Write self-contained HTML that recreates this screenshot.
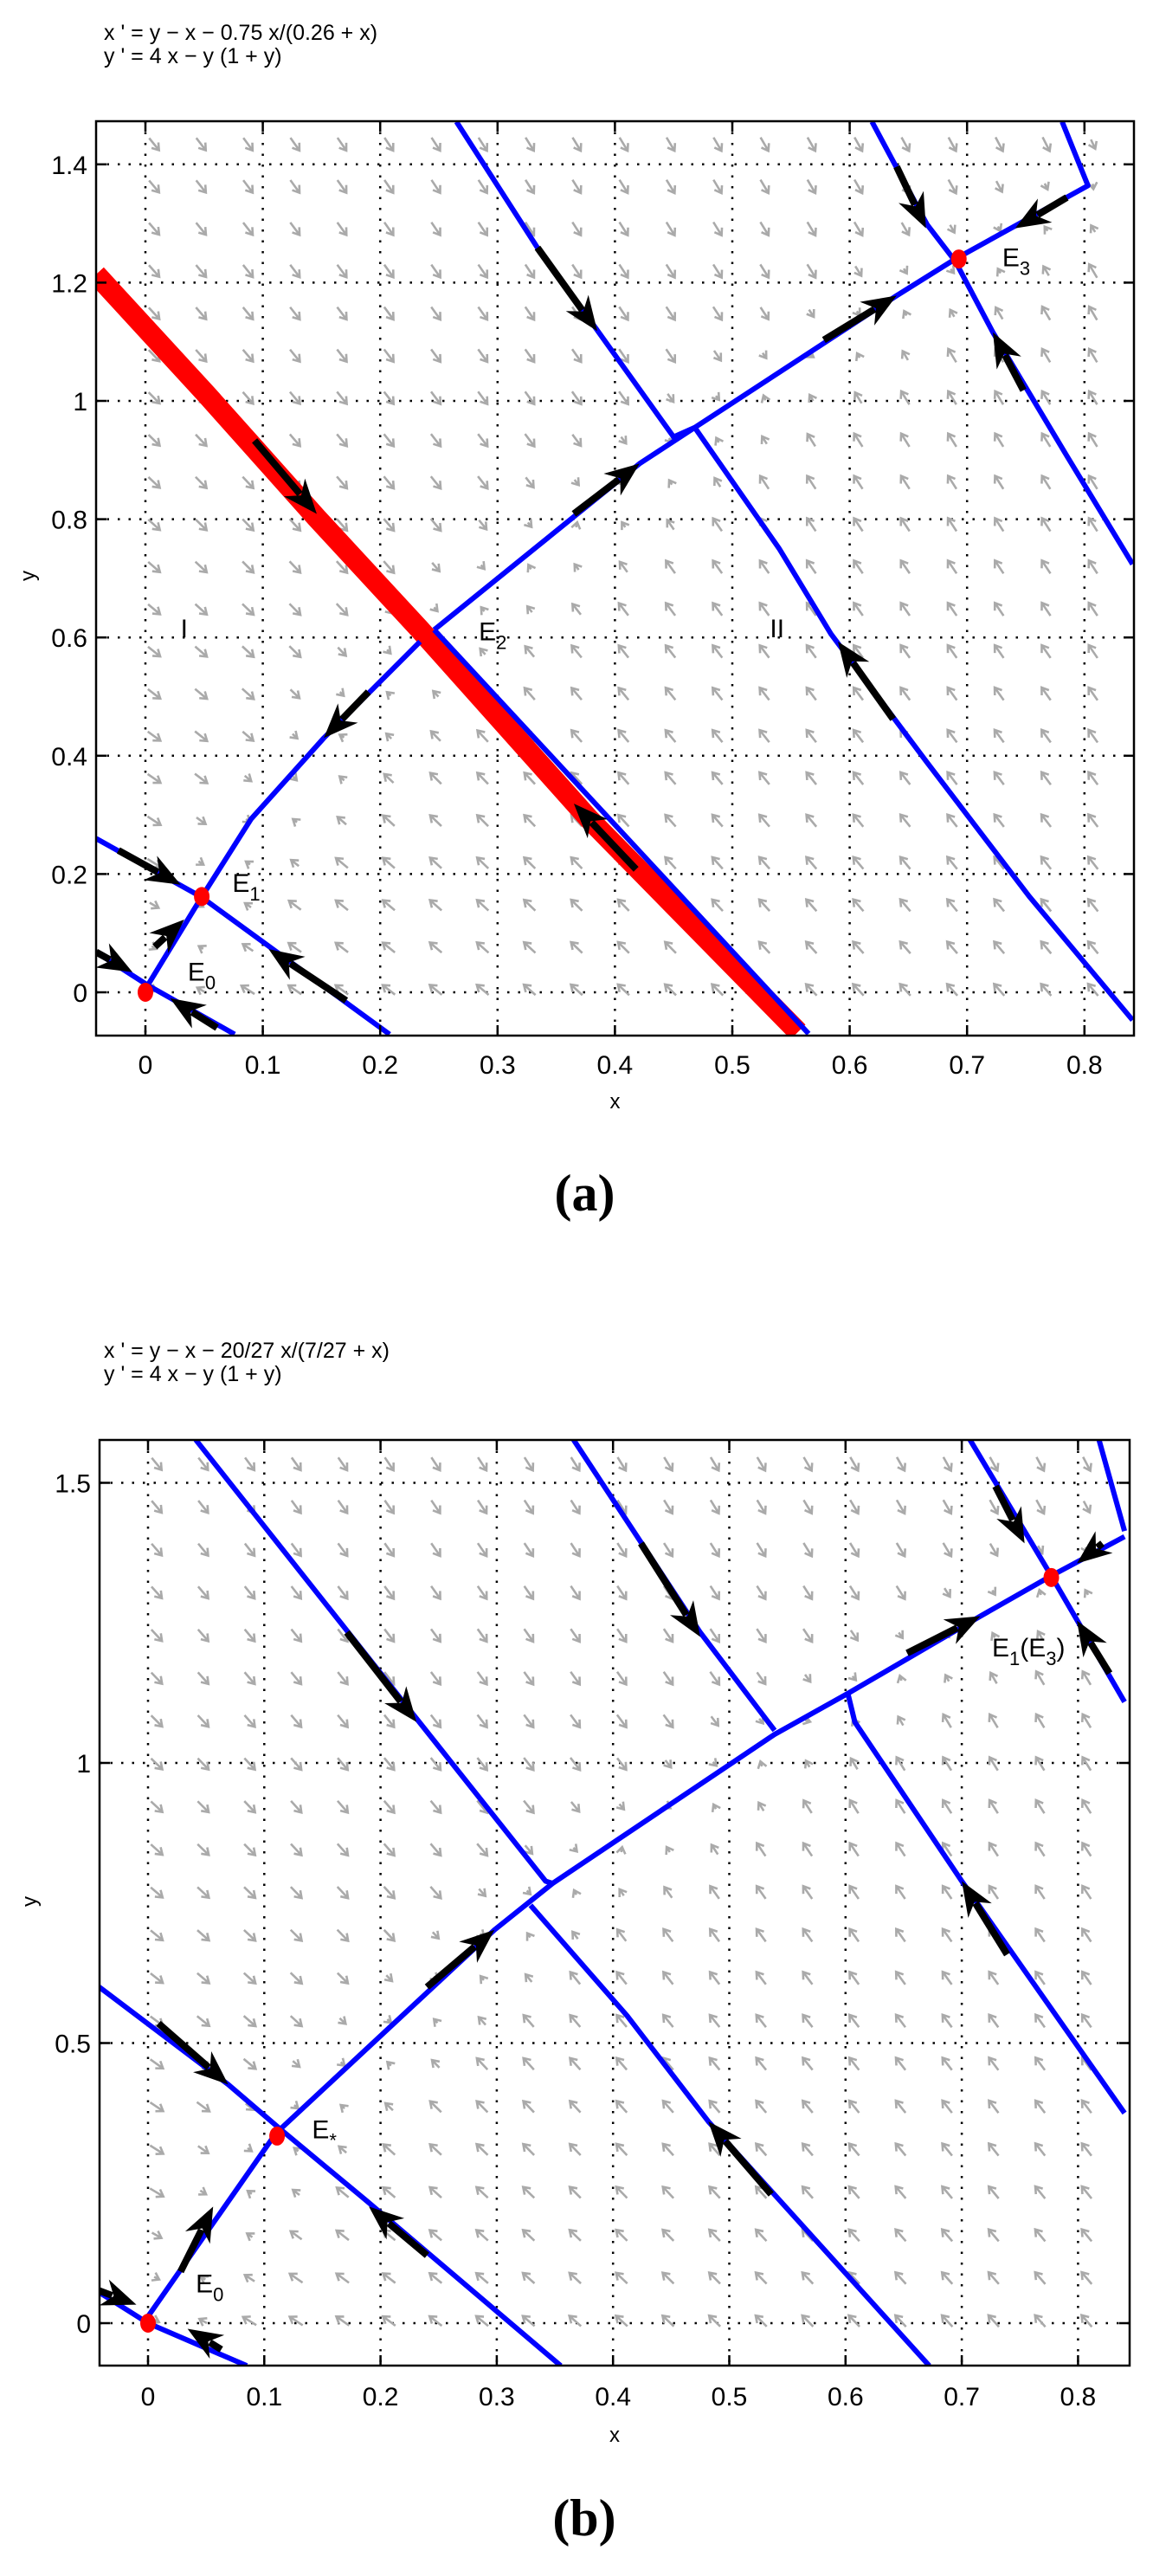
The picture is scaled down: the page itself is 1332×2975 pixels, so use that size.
<!DOCTYPE html>
<html><head><meta charset="utf-8"><style>
html,body{margin:0;padding:0;background:#fff;}
svg{display:block;}
text{font-family:"Liberation Sans",sans-serif;}
</style></head><body>
<svg id="fig" width="1332" height="2975" viewBox="0 0 1332 2975" xmlns="http://www.w3.org/2000/svg"></svg>
<script>
// ---------- Panel (a) data ----------
const aXTicks=[0,0.1,0.2,0.3,0.4,0.5,0.6,0.7,0.8];
const aYTicks=[0,0.2,0.4,0.6,0.8,1,1.2,1.4];
const aYTickLabels=["0","0.2","0.4","0.6","0.8","1","1.2","1.4"];
const aRed=[[-0.042,1.214],[0.052,1.011],[0.146,0.802],[0.234,0.613],[0.378,0.293],[0.556,-0.067]];
const aCurves=[
 [[0.246,0.613],[0.565,-0.07]],
 [[0.246,0.613],[0.421,0.894],[0.468,0.955],[0.640,1.178],[0.690,1.240],[0.803,1.364],[0.781,1.472]],
 [[0.234,0.593],[0.152,0.43],[0.090,0.293],[0.046,0.155],[0.002,0.012]],
 [[-0.042,0.26],[0.047,0.162],[0.208,-0.071]],
 [[-0.042,0.068],[0.002,0.012],[0.076,-0.071]],
 [[0.265,1.472],[0.334,1.259],[0.384,1.122],[0.450,0.939],[0.468,0.955]],
 [[0.468,0.955],[0.540,0.75],[0.584,0.606],[0.665,0.391],[0.753,0.162],[0.841,-0.047]],
 [[0.619,1.472],[0.666,1.298],[0.690,1.236],[0.722,1.116],[0.785,0.907],[0.841,0.724]]
];
const aArrows=[
 [[0.093,0.933],[0.146,0.809]],[[0.334,1.259],[0.385,1.118]],[[0.365,0.809],[0.421,0.894]],
 [[0.578,1.103],[0.640,1.178]],[[0.64,1.396],[0.665,1.292]],[[0.785,1.344],[0.741,1.292]],
 [[0.748,1.018],[0.722,1.116]],[[0.637,0.462],[0.590,0.593]],[[0.418,0.208],[0.365,0.319]],
 [[0.19,0.508],[0.152,0.43]],[[-0.023,0.24],[0.03,0.182]],[[0.171,-0.014],[0.105,0.073]],
 [[0.008,0.077],[0.033,0.123]],[[-0.042,0.068],[-0.011,0.034]],[[0.061,-0.06],[0.021,-0.01]]
];
const aPoints=[[0,0],[0.048,0.162],[0.693,1.24]];
const aLabels=[["I",0.03,0.6,""],["E",0.284,0.595,"2"],["II",0.532,0.6,""],["E",0.074,0.17,"1"],["E",0.036,0.02,"0"],["E",0.73,1.228,"3"]];
// ---------- Panel (b) data ----------
const bXTicks=[0,0.1,0.2,0.3,0.4,0.5,0.6,0.7,0.8];
const bYTicks=[0,0.5,1,1.5];
const bYTickLabels=["0","0.5","1","1.5"];
const bCurves=[
 [[0,0.012],[0.110,0.339],[0.298,0.702],[0.348,0.785],[0.539,1.051],[0.602,1.124],[0.716,1.262],[0.777,1.334],[0.840,1.404]],
 [[-0.042,0.055],[0,0],[0.085,-0.076]],
 [[-0.042,0.6],[0.069,0.426],[0.114,0.346],[0.19,0.215],[0.355,-0.076]],
 [[0.041,1.577],[0.228,1.087],[0.342,0.789],[0.348,0.785]],
 [[0.329,0.746],[0.412,0.549],[0.482,0.36],[0.672,-0.076]],
 [[0.366,1.577],[0.475,1.233],[0.539,1.058]],
 [[0.602,1.124],[0.608,1.073],[0.70,0.789],[0.84,0.375]],
 [[0.707,1.577],[0.777,1.334],[0.84,1.109]],
 [[0.818,1.577],[0.84,1.414]]
];
const bArrows=[
 [[-0.042,0.058],[-0.01,0.033]],[[0.063,-0.047],[0.034,-0.01]],[[0.028,0.092],[0.056,0.208]],
 [[0.009,0.535],[0.069,0.426]],[[0.24,0.121],[0.19,0.208]],[[0.24,0.6],[0.298,0.702]],
 [[0.171,1.233],[0.231,1.073]],[[0.424,1.392],[0.475,1.225]],[[0.653,1.196],[0.716,1.262]],
 [[0.729,1.494],[0.754,1.392]],[[0.821,1.392],[0.799,1.356]],[[0.827,1.16],[0.799,1.254]],
 [[0.739,0.658],[0.70,0.789]],[[0.536,0.23],[0.482,0.36]]
];
const bPoints=[[0,0],[0.111,0.334],[0.777,1.331]];
const bLabels=[["E",0.041,0.055,"0"],["E",0.141,0.33,"*"],["E",0.726,1.19,"1","(E","3",")"]];

const NS="http://www.w3.org/2000/svg";
const svg=document.getElementById('fig');
function mk(tag,attrs,parent){const e=document.createElementNS(NS,tag);for(const k in attrs)e.setAttribute(k,attrs[k]);(parent||svg).appendChild(e);return e;}

function panel(cfg){
 const g=mk('g',{});
 
 
 const L=cfg.left,R=cfg.right,T=cfg.top,B=cfg.bottom;
 const sx=v=>cfg.x0+v*cfg.kx, sy=v=>cfg.y0-v*cfg.ky;
 const clipId=cfg.name+'-clip';
 const defs=mk('defs',{},g);const cp=mk('clipPath',{id:clipId},defs);mk('rect',{x:L,y:T,width:R-L,height:B-T},cp);
 cfg.title.forEach((t,i)=>{const tx=mk('text',{x:120,y:cfg.titleY+i*27,'font-size':25,fill:'#000'},g);tx.textContent=t;
  });
 const grid=mk('g',{stroke:'#000','stroke-width':2.5,'stroke-dasharray':'2.5 10'},g);
 
 cfg.xt.forEach(v=>mk('line',{x1:sx(v),x2:sx(v),y1:T,y2:B},grid));
 cfg.yt.forEach(v=>mk('line',{x1:L,x2:R,y1:sy(v),y2:sy(v)},grid));
 const q=mk('g',{stroke:'#aaaaaa','stroke-width':2.6,fill:'none','clip-path':'url(#'+clipId+')'},g);
 
 for(let i=0;i<=20;i++){for(let j=0;j<=20;j++){
  const x=0.0+i*0.04, y=cfg.qy0+j*cfg.qdy;
  let u=y-x-cfg.c*x/(cfg.d+x), w=4*x-y*(1+y);
  u*=cfg.kx; w*=cfg.ky; const m=Math.hypot(u,w)||1;
  const len=Math.max(6,Math.min(18,m*0.05));
  const dx=u/m*len, dy=-w/m*len;
  const cx=sx(x)+10,cy=sy(y)+4;
  const x1=cx-dx/2,y1=cy-dy/2,x2=cx+dx/2,y2=cy+dy/2;
  const a=Math.atan2(dy,dx),h=9;
  mk('path',{d:`M${x1},${y1}L${x2},${y2}M${x2-h*Math.cos(a-0.6)},${y2-h*Math.sin(a-0.6)}L${x2},${y2}L${x2-h*Math.cos(a+0.6)},${y2-h*Math.sin(a+0.6)}`},q);
 }}
 const pl=g2=>g2.map(p=>sx(p[0])+','+sy(p[1])).join(' ');
 const cg=mk('g',{'clip-path':'url(#'+clipId+')'},g);
 if(cfg.red){const r=mk('polyline',{points:pl(cfg.red),fill:'none',stroke:'#ff0000','stroke-width':24,'stroke-linejoin':'round'},cg);
  }
 cfg.curves.forEach((c,i)=>{const p=mk('polyline',{points:pl(c),fill:'none',stroke:'#0000ff','stroke-width':6,'stroke-linejoin':'round'},cg);
  });
 cfg.arrows.forEach((ar,i)=>{
  const x1=sx(ar[0][0]),y1=sy(ar[0][1]),x2=sx(ar[1][0]),y2=sy(ar[1][1]);
  const a=Math.atan2(y2-y1,x2-x1),hl=40,hw=16;
  const bx=x2-hl*Math.cos(a),by=y2-hl*Math.sin(a);
  const nx=-Math.sin(a),ny=Math.cos(a);
  const ag=mk('g',{},cg);
  mk('line',{x1:x1,y1:y1,x2:bx+10*Math.cos(a),y2:by+10*Math.sin(a),stroke:'#000','stroke-width':8},ag);
  const mx=x2-hl*0.7*Math.cos(a),my=y2-hl*0.7*Math.sin(a);
  mk('path',{d:`M${x2},${y2}L${bx+hw*nx},${by+hw*ny}L${mx},${my}L${bx-hw*nx},${by-hw*ny}Z`,fill:'#000'},ag);
 });
 cfg.points.forEach((p,i)=>{const c=mk('ellipse',{cx:sx(p[0]),cy:sy(p[1]),rx:9,ry:11,fill:'#ff0000'},g);
  });
 cfg.labels.forEach((lb,i)=>{
  const t=mk('text',{x:sx(lb[1]),y:sy(lb[2]),'font-size':30,fill:'#000'},g);
  
  t.appendChild(document.createTextNode(lb[0]));
  if(lb[3]){const s=mk('tspan',{'font-size':22,dy:10},t);s.textContent=lb[3];}
  if(lb[4]){const s=mk('tspan',{dy:-10},t);s.textContent=lb[4];const s2=mk('tspan',{'font-size':22,dy:10},t);s2.textContent=lb[5];const s3=mk('tspan',{dy:-10},t);s3.textContent=lb[6];}
 });
 const box=mk('rect',{x:L,y:T,width:R-L,height:B-T,fill:'none',stroke:'#000','stroke-width':2.5},g);
 
 const tk=mk('g',{stroke:'#000','stroke-width':2.5},g);
 cfg.xt.forEach(v=>{mk('line',{x1:sx(v),x2:sx(v),y1:B,y2:B-12},tk);mk('line',{x1:sx(v),x2:sx(v),y1:T,y2:T+12},tk);});
 cfg.yt.forEach(v=>{mk('line',{x1:L,x2:L+12,y1:sy(v),y2:sy(v)},tk);mk('line',{x1:R,x2:R-12,y1:sy(v),y2:sy(v)},tk);});
 cfg.xt.forEach(v=>{const t=mk('text',{x:sx(v),y:cfg.xtY,'font-size':30,'text-anchor':'middle'},g);t.textContent=String(v);
  });
 cfg.yt.forEach((v,i)=>{const t=mk('text',{x:L-10,y:sy(v)+11,'font-size':30,'text-anchor':'end'},g);t.textContent=cfg.ytl[i];
  });
 const xl=mk('text',{x:(L+R)/2,y:cfg.xlY,'font-size':24,'text-anchor':'middle'},g);xl.textContent='x';
 
 const yl=mk('text',{x:0,y:0,'font-size':24,'text-anchor':'middle',transform:`translate(${cfg.ylX},${cfg.ylY}) rotate(-90)`},g);yl.textContent='y';
 
 const cap=mk('text',{x:(L+R)/2-35,y:cfg.capY,'font-size':60,'font-weight':'bold','text-anchor':'middle'},g);
 cap.setAttribute('style','font-family:"Liberation Serif",serif');cap.textContent=cfg.cap;
 
}
panel({name:'panel-a',left:111,right:1310,top:140,bottom:1196,x0:168,kx:1356,y0:1146,ky:683,
 xt:aXTicks,yt:aYTicks,ytl:aYTickLabels,title:["x ' = y \u2212 x \u2212 0.75 x/(0.26 + x)","y ' = 4 x \u2212 y (1 + y)"],titleY:46,
 c:0.75,d:0.26,qy0:0.01,qdy:0.0715,red:aRed,curves:aCurves,arrows:aArrows,points:aPoints,labels:aLabels,
 xtY:1240,xlY:1280,ylX:40,ylY:665,capY:1398,cap:'(a)'});
panel({name:'panel-b',left:115,right:1305,top:1663,bottom:2732,x0:171,kx:1343,y0:2683,ky:647,
 xt:bXTicks,yt:bYTicks,ytl:bYTickLabels,title:["x ' = y \u2212 x \u2212 20/27 x/(7/27 + x)","y ' = 4 x \u2212 y (1 + y)"],titleY:1568,
 c:20/27,d:7/27,qy0:0.01,qdy:0.0765,red:null,curves:bCurves,arrows:bArrows,points:bPoints,labels:bLabels,
 xtY:2778,xlY:2820,ylX:42,ylY:2196,capY:2928,cap:'(b)'});
</script>
</body></html>
